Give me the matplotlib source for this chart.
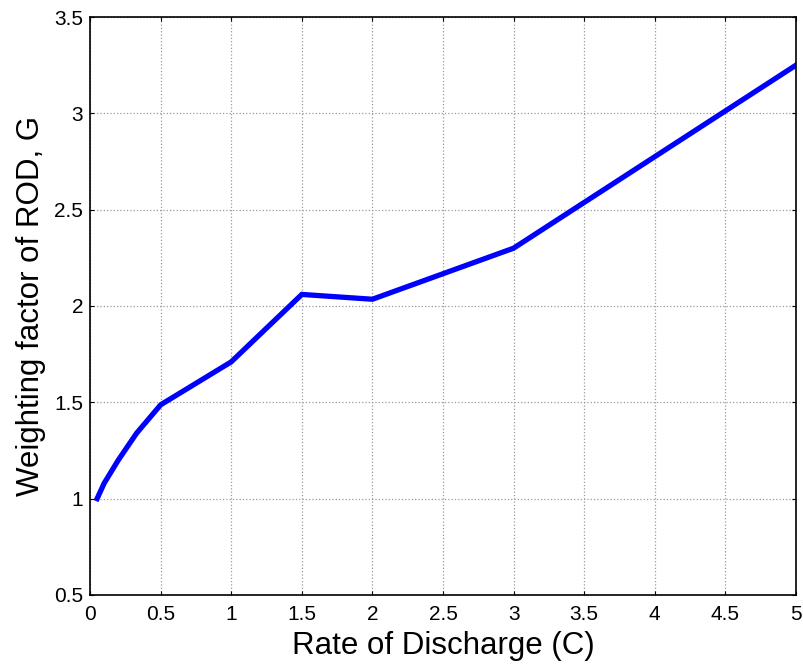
import matplotlib
matplotlib.use("Agg")
import matplotlib.pyplot as plt

# Weighting factor G vs rate of discharge
rate = [0.05, 0.1, 0.2, 0.33, 0.5, 1.0, 1.5, 2.0, 3.0, 4.0, 5.0]
weight = [1.0, 1.08, 1.20, 1.34, 1.487, 1.71, 2.06, 2.035, 2.30, 2.775, 3.25]

xticks = [0, 0.5, 1, 1.5, 2, 2.5, 3, 3.5, 4, 4.5, 5]
xticklabels = ['0', '0.5', '1', '1.5', '2', '2.5', '3', '3.5', '4', '4.5', '5']
yticks = [0.5, 1, 1.5, 2, 2.5, 3, 3.5]
yticklabels = ['0.5', '1', '1.5', '2', '2.5', '3', '3.5']

plt.rcParams['font.family'] = ['Liberation Sans', 'DejaVu Sans']

fig = plt.figure(figsize=(8.04, 6.67), dpi=100)
ax = fig.add_axes([0.112, 0.108, 0.878, 0.8665])

ax.plot(rate, weight, color='#0000ff', linewidth=3.8, solid_joinstyle='miter')

ax.set_xlim(0, 5)
ax.set_ylim(0.5, 3.5)
ax.set_xticks(xticks)
ax.set_xticklabels(xticklabels)
ax.set_yticks(yticks)
ax.set_yticklabels(yticklabels)
ax.tick_params(direction='in', length=3, width=0.8, top=True, right=True,
               labelsize=15)
ax.tick_params(axis='x', pad=7)
ax.tick_params(axis='y', pad=5)
ax.grid(True, color='#9a9a9a', linestyle=':', linewidth=0.9)
for s in ax.spines.values():
    s.set_linewidth(1.2)

ax.set_xlabel('Rate of Discharge (C)', fontsize=22.5, labelpad=5)
ax.set_ylabel('Weighting factor of ROD, G', fontsize=22.5, labelpad=6)

fig.savefig('out.png', dpi=100)
